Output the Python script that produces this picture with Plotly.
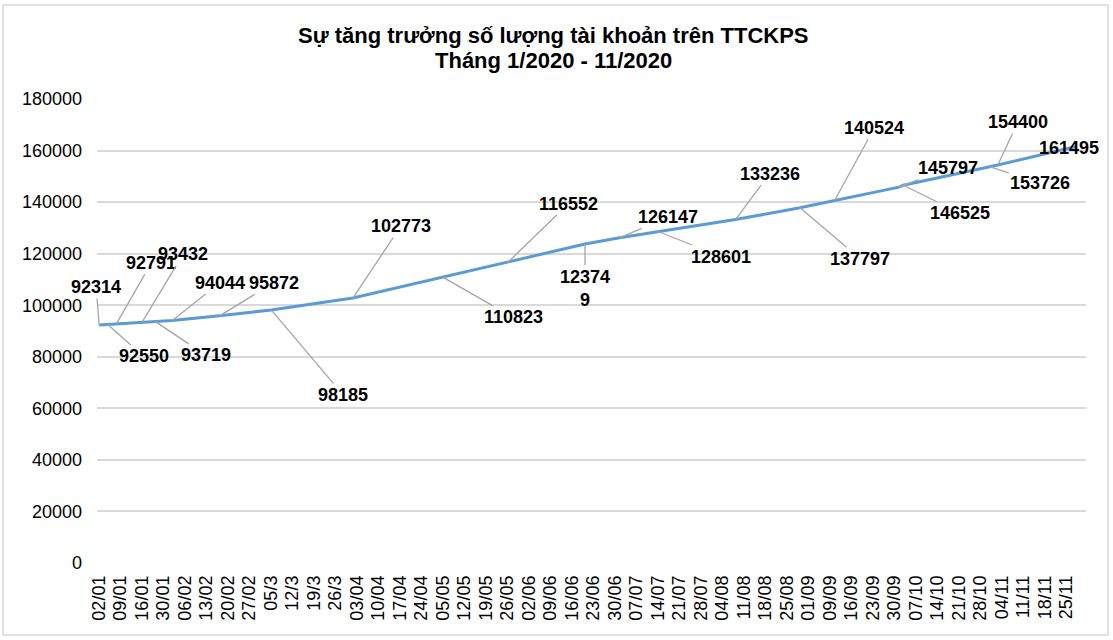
import plotly.graph_objects as go

# ---- data ----
tick_labels = ["02/01", "09/01", "16/01", "30/01", "06/02", "13/02", "20/02", "27/02",
               "05/3", "12/3", "19/3", "26/3", "03/04", "10/04", "17/04", "24/04",
               "05/05", "12/05", "19/05", "26/05", "02/06", "09/06", "16/06", "23/06",
               "30/06", "07/07", "14/07", "21/07", "28/07", "04/08", "11/08", "18/08",
               "25/08", "01/09", "09/09", "16/09", "23/09", "30/09", "07/10", "14/10",
               "21/10", "28/10", "04/11", "11/11", "18/11", "25/11"]
tick_days = [i * 5 for i in range(len(tick_labels))]  # trading-day index of each label

# trading-day index of each recorded value
days = [0, 2, 4, 10, 13, 17, 28, 40, 59, 80, 95, 113, 121, 130, 148, 163, 171,
        186, 187, 207, 209, 227]
accounts = [92314, 92550, 92791, 93432, 93719, 94044, 95872, 98185, 102773, 110823,
            116552, 123749, 126147, 128601, 133236, 137797, 140524, 145797, 146525,
            153726, 154400, 161495]

title_lines = ["Sự tăng trưởng số lượng tài khoản trên TTCKPS", "Tháng 1/2020 - 11/2020"]

# label text (Excel wrapped one label)
label_texts = [str(v) for v in accounts]
label_texts[accounts.index(123749)] = "12374<br>9"

# label offsets in pixels (style)
label_dx = [-3, 36, 35, 41, 51, 48, 54, 72, 48, 70, 61, 0, 49, 63, 34, 60, 40, 49, 57, 51, 20, -6]
label_dy = [-38, 32, -61, -68, 34, -38, -33, 85, -72, 40, -59, 44, -21, 25, -46, 51, -73, -19, 28, 16, -43, 1]

FONT = "Liberation Sans, Arial, sans-serif"

fig = go.Figure()
fig.add_trace(go.Scatter(
    x=days, y=accounts, mode="lines",
    line=dict(color="#5B9BD5", width=3),
    hoverinfo="x+y", showlegend=False,
))

annotations = []
for d, v, t, dx, dy in zip(days, accounts, label_texts, label_dx, label_dy):
    if d == days[-1]:
        annotations.append(dict(x=d, y=v, text=f"<b>{t}</b>", showarrow=False,
                                xshift=dx, yshift=-dy,
                                font=dict(family=FONT, size=18, color="#000000")))
    else:
        annotations.append(dict(x=d, y=v, text=f"<b>{t}</b>", showarrow=True,
                                arrowhead=0, arrowwidth=1.3, arrowcolor="#A5A5A5",
                                ax=dx, ay=dy, standoff=0, startstandoff=0,
                                font=dict(family=FONT, size=18, color="#000000")))

# title lines (two annotations for exact line spacing)
for txt, ty in zip(title_lines, [1.1379, 1.084]):
    annotations.append(dict(xref="paper", yref="paper", x=0.4616, y=ty,
                            xanchor="center", yanchor="middle", showarrow=False,
                            text=f"<b>{txt}</b>",
                            font=dict(family=FONT, size=22, color="#000000")))

fig.update_layout(
    width=1113, height=640,
    margin=dict(l=97, r=27, t=99, b=77),
    paper_bgcolor="white", plot_bgcolor="white",
    font=dict(family=FONT, size=18, color="#000000"),
    xaxis=dict(
        range=[-0.5, 229.5], tickmode="array", tickvals=tick_days, ticktext=tick_labels,
        tickangle=-90, showgrid=False, zeroline=False, showline=False, ticks="",
        tickfont=dict(size=18, color="#000000"), ticklabelstandoff=8,
    ),
    yaxis=dict(
        range=[0, 180000], tickmode="linear", tick0=0, dtick=20000,
        showgrid=True, gridcolor="#D9D9D9", gridwidth=1.5, zeroline=False,
        showline=False, ticks="", tickformat="d",
        tickfont=dict(size=18, color="#000000"), ticklabelstandoff=14,
    ),
    annotations=annotations,
    shapes=[dict(type="rect", xref="paper", yref="paper",
                 x0=-0.095, x1=1.0222, y0=-0.1552, y1=1.2026,
                 line=dict(color="#D9D9D9", width=1.5), fillcolor="rgba(0,0,0,0)")],
)

fig.write_html("out.html")
